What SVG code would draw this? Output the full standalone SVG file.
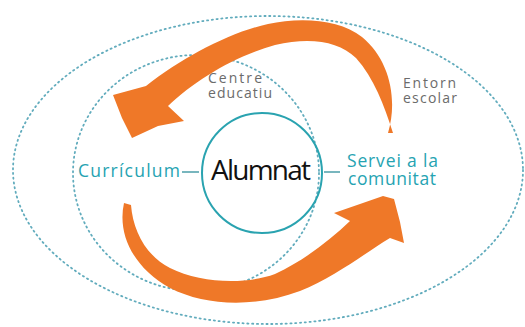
<svg xmlns="http://www.w3.org/2000/svg" width="525" height="327" viewBox="0 0 525 327">
<style>
.dot{fill:none;stroke:#62acbd;stroke-width:1.8;stroke-dasharray:1.2 3.6;stroke-linecap:round}
.teal{font-family:"Open Sans","Lato",sans-serif;fill:#26a3b2;font-size:17.5px}
.gray{font-family:"Open Sans","Lato",sans-serif;fill:#6b6b6b;font-size:14px}
.arrow{fill:#ef7828}
.link{stroke:#2f8f9b;stroke-width:1.3}
</style>
<rect width="525" height="327" fill="#ffffff"/>
<g id="entorn">
<ellipse class="dot" cx="268" cy="170" rx="255" ry="154"/>
<text class="gray" x="403" y="88" textLength="53">Entorn</text>
<text class="gray" x="403" y="103" textLength="54">escolar</text>
</g>
<g id="centre">
<ellipse class="dot" cx="196" cy="173" rx="123" ry="118"/>
<text class="gray" x="208" y="83" textLength="54">Centre</text>
<text class="gray" x="208" y="98" textLength="64">educatiu</text>
</g>
<g id="connectors">
<path class="arrow" d="M388 133 C398 100 390 60 362 37 C340 19 300 17 268 24 C228 33 182 58 146 86 L113 95 L122 118 L132 138 L158 126 L184 121 L168 106 C195 80 235 56 275 45 C310 37 338 41 356 58 C374 78 384 105 393 133 Z"/>
<path class="arrow" d="M124 203 C117 235 134 268 170 288 C205 306 255 308 300 291 C335 277 365 253 390 238 L404 243 L400 222 L394 199 L383 196 L360 204 L334 213 L350 221 C330 240 305 260 275 274 C245 285 200 283 170 268 C145 255 133 230 131 205 Z"/>
<line class="link" x1="182" y1="172" x2="199" y2="172"/>
<line class="link" x1="324" y1="172" x2="340" y2="172"/>
</g>
<g id="curriculum">
<text class="teal" x="78" y="177" textLength="102">Currículum</text>
</g>
<g id="servei">
<text class="teal" x="347" y="167" textLength="91">Servei a la</text>
<text class="teal" x="348" y="185" textLength="88">comunitat</text>
</g>
<g id="alumnat">
<circle cx="262" cy="173" r="60" fill="none" stroke="#2aa3b0" stroke-width="2"/>
<text x="261" y="180" text-anchor="middle" font-family="Open Sans, Lato, sans-serif" font-size="28" fill="#111111" textLength="100">Alumnat</text>
</g>
</svg>
